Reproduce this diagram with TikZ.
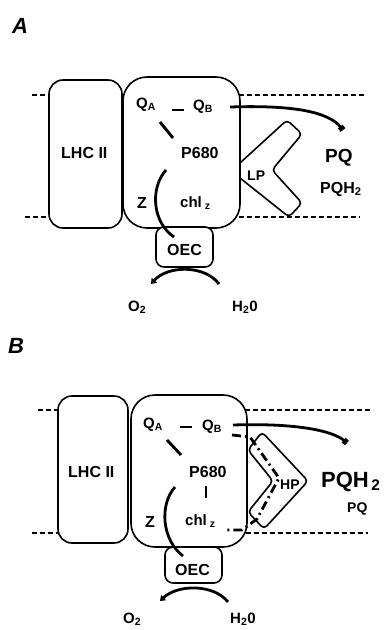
\documentclass[tikz,border=0pt]{standalone}
\usepackage{fontspec}
\setmainfont{Liberation Sans}
\usetikzlibrary{arrows.meta}

\begin{document}
\begin{tikzpicture}[x=1pt,y=1pt,yscale=-1,xscale=1,
  membrane/.style={dash pattern={on 5pt off 3pt},line width=1.4pt},
  cplx/.style={line width=1.6pt},
  bond/.style={line width=2.9pt},
  flow/.style={line width=2.8pt},
  lbl/.style={anchor=base west,inner sep=0pt,font=\bfseries\fontsize{#1}{#1}\selectfont},
  lbl/.default=16,
  tag/.style={anchor=base west,inner sep=0pt,font=\bfseries\itshape\fontsize{22}{22}\selectfont}]
\useasboundingbox (0,0) rectangle (390,630);

%%%%%%%%%%%%%%%% panel A %%%%%%%%%%%%%%%%
%Straight Lines [membrane]
\draw [membrane] (32,95) -- (50,95) ;
\draw [membrane] (239,95) -- (365,95) ;
\draw [membrane] (25,217) -- (50,217) ;
\draw [membrane] (239,217) -- (360,217) ;

%Shape: Rounded Rect [LHC II]
\draw [cplx,fill=white,rounded corners=14pt] (49,80) rectangle (122,228) ;
%Shape: Rounded Rect [PSII core]
\draw [cplx,fill=white,rounded corners=24pt] (123,77) rectangle (240,228) ;
%Shape: Rounded Rect [OEC]
\draw [cplx,fill=white,rounded corners=8pt] (156,227) rectangle (213,267) ;
%Shape: Chevron [LP]
\draw [cplx,rounded corners=4pt] (240,163) -- (287,120) -- (302,134) -- (272,170) -- (302,203) -- (289,217) -- (240,178) ;

% Text Node
\draw (12,33) node [tag] (tagA) {A};
\draw (61,158) node [lbl] (lhcA) {LHC II};
\draw (136,108) node [lbl=15] (qaA) {Q\textsubscript{A}};
\draw (193,110) node [lbl=15] (qbA) {Q\textsubscript{B}};
\draw (181,158) node [lbl] (pA) {P680};
\draw (137,208) node [lbl] (zA) {Z};
\draw (180,207) node [lbl=15] (chlA) {chl\hspace{3pt}\textsubscript{z}};
\draw (167,255) node [lbl] (oecA) {OEC};
\draw (247,180) node [lbl=14] (lpA) {LP};
\draw (325,162) node [lbl=19] (pqA) {PQ};
\draw (320,193) node [lbl] (pqhA) {PQH\textsubscript{2}};
\draw (128,311) node [lbl=15] (o2A) {O\textsubscript{2}};
\draw (232,311) node [lbl=15] (h2oA) {H\textsubscript{2}0};

% electron path
\coordinate (qaqbA1) at (172,110); \coordinate (qaqbA2) at (184,110);
\coordinate (qapA1) at (160,122); \coordinate (qapA2) at (173,138);
\coordinate (qbA-out) at (230,107); \coordinate (pqA-in) at (343,130);
\coordinate (zA-top) at (166,170); \coordinate (oecA-in) at (174,237);
\coordinate (h2oA-out) at (219,284); \coordinate (o2A-in) at (151,284);
%Straight Lines
\draw [bond] (qaqbA1) -- (qaqbA2) ;
\draw [bond] (qapA1) -- (qapA2) ;
%Curve Lines
\draw [flow,-{Square[length=4.5pt,width=6pt]}] (qbA-out) .. controls (290,105) and (328,111) .. (pqA-in) ;
\draw [flow] (zA-top) .. controls (150,188) and (152,222) .. (oecA-in) ;
\draw [flow,-{Triangle[length=5pt,width=7pt]}] (h2oA-out) .. controls (205,265) and (168,265) .. (o2A-in) ;

%%%%%%%%%%%%%%%% panel B %%%%%%%%%%%%%%%%
%Straight Lines [membrane]
\draw [membrane] (38,410) -- (59,410) ;
\draw [membrane] (245,410) -- (373,410) ;
\draw [membrane] (32,533) -- (59,533) ;
\draw [membrane] (246,533) -- (368,533) ;

%Shape: Rounded Rect [LHC II]
\draw [cplx,fill=white,rounded corners=14pt] (58,396) rectangle (128,543) ;
%Shape: Rounded Rect [PSII core]
\draw [cplx,fill=white,rounded corners=24pt] (131,395) rectangle (247,547) ;
%Shape: Rounded Rect [OEC]
\draw [cplx,fill=white,rounded corners=8pt] (165,547) rectangle (222,583) ;
%Shape: Chevron [HP]
\draw [cplx,rounded corners=4pt] (248,450) -- (262,432) -- (308,481) -- (264,529) -- (248,512) -- (273,481) -- cycle ;

% Text Node
\draw (8,353) node [tag] (tagB) {B};
\draw (68,477) node [lbl] (lhcB) {LHC II};
\draw (143,428) node [lbl=15] (qaB) {Q\textsubscript{A}};
\draw (202,430) node [lbl=15] (qbB) {Q\textsubscript{B}};
\draw (189,477) node [lbl] (pB) {P680};
\draw (145,527) node [lbl] (zB) {Z};
\draw (185,525) node [lbl=15] (chlB) {chl\hspace{3pt}\textsubscript{z}};
\draw (175,575) node [lbl] (oecB) {OEC};
\draw (280,489) node [lbl=14] (hpB) {HP};
\draw (321,487) node [lbl=22] (pqhB) {PQH\textsubscript{\,2}};
\draw (347,512) node [lbl=14] (pqB) {PQ};
\draw (123,623) node [lbl=15] (o2B) {O\textsubscript{2}};
\draw (230,623) node [lbl=15] (h2oB) {H\textsubscript{2}0};

% electron path
\coordinate (qaqbB1) at (180,427); \coordinate (qaqbB2) at (192,427);
\coordinate (qapB1) at (167,440); \coordinate (qapB2) at (181,455);
\coordinate (pchlB1) at (206,486); \coordinate (pchlB2) at (206,498);
\coordinate (qbB-out) at (233,425); \coordinate (pqhB-in) at (347,443);
\coordinate (qbB-low) at (232,435); \coordinate (chlB-out) at (224,530);
\coordinate (zB-top) at (175,487); \coordinate (oecB-in) at (183,556);
\coordinate (h2oB-out) at (228,602); \coordinate (o2B-in) at (160,601);
%Straight Lines
\draw [bond] (qaqbB1) -- (qaqbB2) ;
\draw [bond] (qapB1) -- (qapB2) ;
\draw [bond] (pchlB1) -- (pchlB2) ;
%Curve Lines
\draw [flow,-{Square[length=4.5pt,width=6pt]}] (qbB-out) .. controls (293,423) and (332,430) .. (pqhB-in) ;
\draw [flow,dash pattern={on 9pt off 4pt on 2pt off 4pt}] (qbB-low) -- (250,437) -- (279,478) -- (257,519) -- (242,530) -- (chlB-out) ;
\draw [flow] (zB-top) .. controls (159,505) and (162,540) .. (oecB-in) ;
\draw [flow,-{Triangle[length=5pt,width=7pt]}] (h2oB-out) .. controls (214,584) and (178,584) .. (o2B-in) ;

\end{tikzpicture}
\end{document}
